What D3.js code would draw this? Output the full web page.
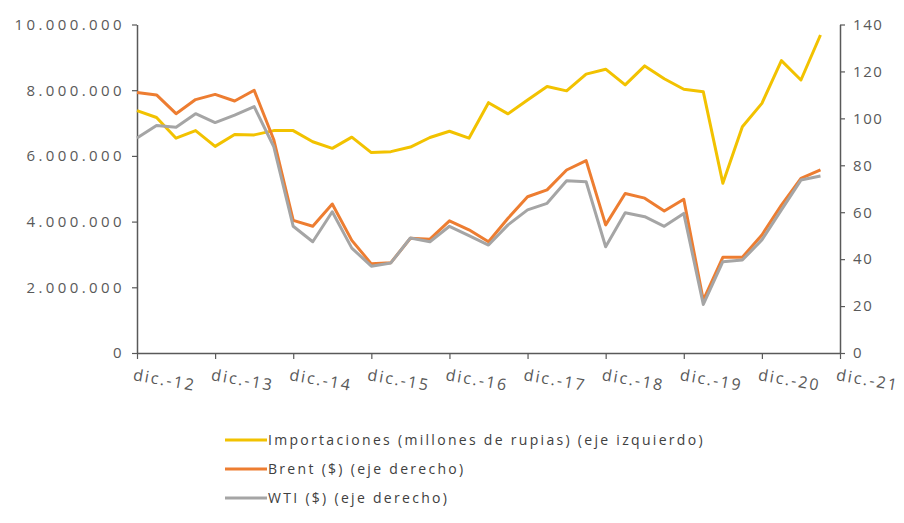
<!DOCTYPE html>
<html>
<head>
<meta charset="utf-8">
<script src="https://cdn.jsdelivr.net/npm/d3@7"></script>
<style>
  html, body { margin: 0; padding: 0; background: #ffffff; }
  svg { display: block; }
  text { font-family: "Open Sans", "DejaVu Sans", sans-serif; }
</style>
</head>
<body>
<div id="chart"></div>
<script>
// Year labels on the date axis (one tick per December)
const yearLabels = ["dic.-12", "dic.-13", "dic.-14", "dic.-15", "dic.-16",
                    "dic.-17", "dic.-18", "dic.-19", "dic.-20", "dic.-21"];

// Quarterly observations, dic.-12 through sep.-21
const importaciones = [
  7380000, 7170000, 6540000, 6770000, 6290000, 6650000, 6640000, 6770000,
  6770000, 6430000, 6230000, 6570000, 6100000, 6130000, 6270000, 6560000,
  6750000, 6540000, 7620000, 7280000, 7700000, 8110000, 7980000, 8490000,
  8640000, 8160000, 8740000, 8350000, 8030000, 7950000, 5170000, 6890000,
  7600000, 8900000, 8310000, 9680000
];
const brent = [
  111.0, 110.0, 102.0, 108.0, 110.2, 107.4, 112.0, 91.0,
  56.5, 54.0, 63.5, 48.0, 38.0, 38.5, 48.9, 48.5,
  56.3, 52.5, 47.4, 57.4, 66.6, 69.5, 78.0, 82.0,
  54.6, 68.0, 66.0, 60.5, 65.5, 22.5, 40.8, 40.8,
  50.3, 63.0, 74.4, 78.0
];
const wti = [
  91.6, 97.0, 96.2, 102.0, 98.2, 101.4, 105.0, 88.0,
  54.0, 47.4, 60.2, 44.7, 37.0, 38.4, 49.0, 47.4,
  54.0, 50.0, 46.0, 54.6, 61.0, 63.8, 73.4, 73.0,
  45.3, 59.8, 58.1, 54.0, 59.5, 20.7, 38.9, 39.6,
  48.2, 61.0, 73.7, 75.4
];

// Axis tick values
const leftTicks = [0, 2000000, 4000000, 6000000, 8000000, 10000000];
const rightTicks = [0, 20, 40, 60, 80, 100, 120, 140];

const seriesNames = [
  "Importaciones (millones de rupias) (eje izquierdo)",
  "Brent ($) (eje derecho)",
  "WTI ($) (eje derecho)"
];

const W = 904, H = 523;
const plot = { left: 137, right: 840, top: 24.5, bottom: 353 };
const axisColor = "#595959";
const textColor = "#595959";
const colors = { imp: "#F2C200", brent: "#ED7D31", wti: "#A5A5A5" };

const svg = d3.select("#chart").append("svg")
  .attr("width", W).attr("height", H);

const x = d3.scaleLinear().domain([0, 36]).range([plot.left, plot.right]);
const yL = d3.scaleLinear().domain([0, 10000000]).range([plot.bottom, plot.top]);
const yR = d3.scaleLinear().domain([0, 140]).range([plot.bottom, plot.top]);

const fmtDots = v => d3.format(",")(v).replace(/,/g, ".");

// Left axis
const gL = svg.append("g")
  .attr("transform", `translate(${plot.left},0)`)
  .call(d3.axisLeft(yL).tickValues(leftTicks).tickFormat(fmtDots)
    .tickSizeInner(5).tickSizeOuter(0).tickPadding(7));

// Right axis
const gR = svg.append("g")
  .attr("transform", `translate(${plot.right},0)`)
  .call(d3.axisRight(yR).tickValues(rightTicks)
    .tickSizeInner(5).tickSizeOuter(0).tickPadding(8));

// Bottom axis
const gB = svg.append("g")
  .attr("transform", `translate(0,${plot.bottom})`)
  .call(d3.axisBottom(x).tickValues(d3.range(0, 37, 4))
    .tickFormat((d, i) => yearLabels[i]).tickSizeInner(6).tickSizeOuter(0));

[gL, gR, gB].forEach(g => {
  g.select(".domain").attr("stroke", axisColor).attr("stroke-width", 1.5);
  g.selectAll(".tick line").attr("stroke", axisColor).attr("stroke-width", 1.2);
  g.selectAll("text").attr("fill", textColor);
});

gL.selectAll(".tick text")
  .style("font-size", "15px")
  .style("letter-spacing", "3.4px");

gR.selectAll(".tick text")
  .style("font-size", "15px")
  .style("letter-spacing", "1.6px");

gB.selectAll(".tick text")
  .attr("text-anchor", "start")
  .attr("dy", null)
  .attr("y", 0)
  .attr("transform", "translate(-5,27) rotate(10)")
  .style("font-size", "16px")
  .style("letter-spacing", "2px");

// Lines
const lineL = d3.line().x((d, i) => x(i)).y(d => yL(d));
const lineR = d3.line().x((d, i) => x(i)).y(d => yR(d));

svg.append("path").datum(importaciones)
  .attr("fill", "none").attr("stroke", colors.imp)
  .attr("stroke-width", 3).attr("stroke-linejoin", "round")
  .attr("d", lineL);
svg.append("path").datum(brent)
  .attr("fill", "none").attr("stroke", colors.brent)
  .attr("stroke-width", 3).attr("stroke-linejoin", "round")
  .attr("d", lineR);
svg.append("path").datum(wti)
  .attr("fill", "none").attr("stroke", colors.wti)
  .attr("stroke-width", 3).attr("stroke-linejoin", "round")
  .attr("d", lineR);

// Legend
const legend = svg.append("g").attr("transform", "translate(225,440)");
const legendColors = [colors.imp, colors.brent, colors.wti];
seriesNames.forEach((name, i) => {
  const g = legend.append("g").attr("transform", `translate(0,${i * 29})`);
  g.append("line").attr("x1", 0).attr("x2", 42).attr("y1", 0).attr("y2", 0)
    .attr("stroke", legendColors[i]).attr("stroke-width", 3);
  g.append("text").attr("x", 43).attr("y", 0).attr("dy", "0.35em")
    .attr("fill", "#404040")
    .style("font-size", "14px")
    .style("letter-spacing", "2.3px")
    .text(name);
});
</script>
</body>
</html>
